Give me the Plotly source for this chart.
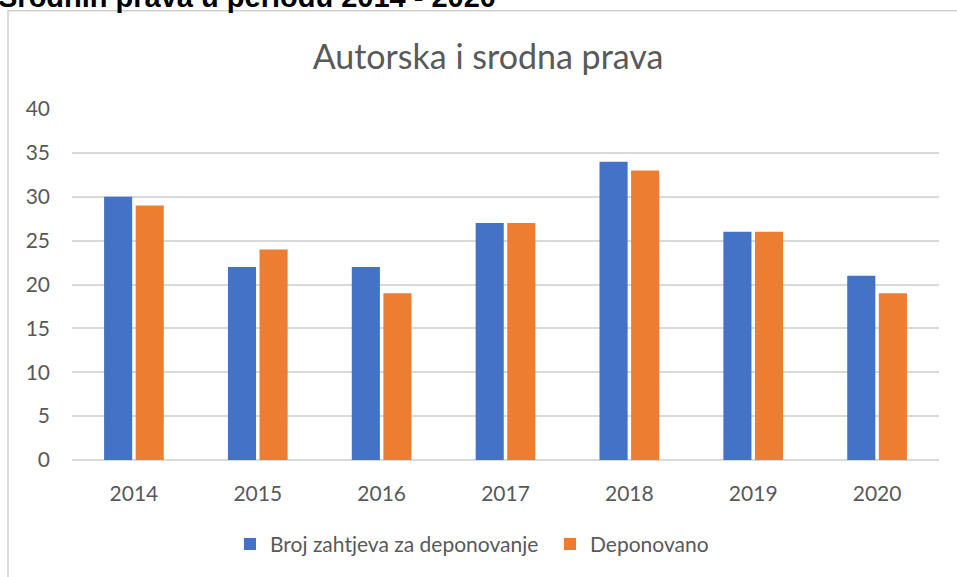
import plotly.graph_objects as go

years = ["2014", "2015", "2016", "2017", "2018", "2019", "2020"]
zahtjevi = [30, 22, 22, 27, 34, 26, 21]
deponovano = [29, 24, 19, 27, 33, 26, 19]

W, H = 957, 577
L, R, T, B = 72, 18, 109, 114
pw = W - L - R
ph = H - T - B

def px_x(x):
    return (x - L) / pw

def px_y(y):
    return (H - B - y) / ph

font = "Lato, 'Open Sans', sans-serif"
gray = "#595959"

fig = go.Figure()
fig.add_trace(go.Bar(x=years, y=zahtjevi, name="Broj zahtjeva za deponovanje",
                     marker=dict(color="#4472C4", line=dict(width=0))))
fig.add_trace(go.Bar(x=years, y=deponovano, name="Deponovano",
                     marker=dict(color="#ED7D31", line=dict(width=0))))

fig.update_layout(
    width=W, height=H,
    margin=dict(l=L, r=R, t=T, b=B),
    paper_bgcolor="white", plot_bgcolor="white",
    barmode="group", bargap=0.49, bargroupgap=0.11,
    font=dict(family=font, color=gray),
    title=dict(text="Autorska i srodna prava", x=488 / W, xanchor="center", xref="container",
               y=1 - 57 / H, yanchor="middle", yref="container",
               font=dict(size=34, color=gray, family=font)),
    showlegend=True,
    legend=dict(orientation="h", x=px_x(550), xanchor="center", y=px_y(548), yanchor="middle",
                font=dict(size=21, color=gray, family=font), traceorder="normal",
                itemwidth=30, entrywidth=275, entrywidthmode="pixels"),
    xaxis=dict(showgrid=False, showline=False, ticks="", tickfont=dict(size=21, color=gray),
               ticklabelstandoff=19),
    yaxis=dict(range=[0, 40], dtick=5, showgrid=True, gridcolor="#d9d9d9", gridwidth=1.5,
               zeroline=True, zerolinecolor="#d9d9d9", zerolinewidth=1.5, showline=False,
               ticks="", tickfont=dict(size=21, color=gray), ticklabelstandoff=21),
)

fig.add_shape(type="rect", xref="paper", yref="paper",
              x0=px_x(8), x1=px_x(1000), y0=px_y(700), y1=px_y(10),
              line=dict(color="#d0d0d0", width=1.5), fillcolor="rgba(0,0,0,0)", layer="below")

fig.add_annotation(text="<b>Srodnih prava u periodu 2014 - 2020</b>", xref="paper", yref="paper",
                   x=px_x(-4), xanchor="left", y=px_y(14), yanchor="bottom", showarrow=False,
                   font=dict(size=29, color="black", family="'Liberation Sans', Arial, sans-serif"))

fig.write_html("out.html", post_script="document.body.style.margin='0px';",
               config={"displayModeBar": False})
